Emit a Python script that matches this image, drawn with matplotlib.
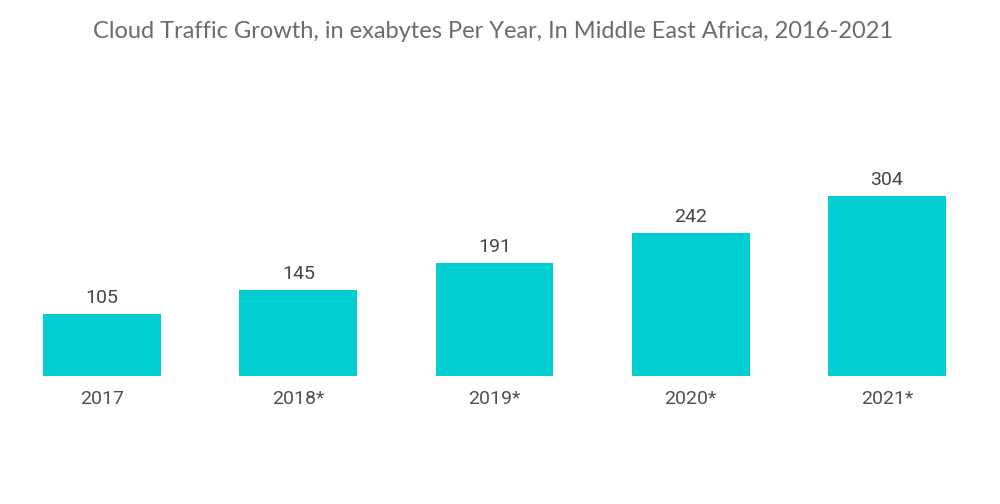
import matplotlib
matplotlib.use('Agg')
import matplotlib.pyplot as plt

# datos del grafico
years = ['2017', '2018*', '2019*', '2020*', '2021*']
traffic = [105, 145, 191, 242, 304]

fig = plt.figure(figsize=(10, 5.04), dpi=100)
ax = fig.add_axes([0.004, 1 - 376 / 504, 0.981, 236.8 / 504])

bars = ax.bar(range(len(years)), traffic, width=0.6, color='#00CED1')
ax.set_xlim(-0.5, len(years) - 0.5)
ax.set_ylim(0, 400)

# etiquetas de valor
for b, v in zip(bars, traffic):
    ax.annotate(str(v), (b.get_x() + b.get_width() / 2, v), xytext=(0, 5),
                textcoords='offset points', ha='center', va='bottom',
                fontsize=14, color='#454545', family='Roboto')

ax.set_xticks(range(len(years)))
ax.set_xticklabels(years, fontsize=14, color='#505050', family='Roboto')
ax.tick_params(axis='x', length=0, pad=10)
ax.set_yticks([])
for s in ax.spines.values():
    s.set_visible(False)

fig.text(0.493, 1 - 31 / 504, 'Cloud Traffic Growth, in exabytes Per Year, In Middle East Africa, 2016-2021',
         ha='center', va='center', fontsize=17, color='#6b6b6b', family='Lato')

fig.savefig('out.png', dpi=100)
